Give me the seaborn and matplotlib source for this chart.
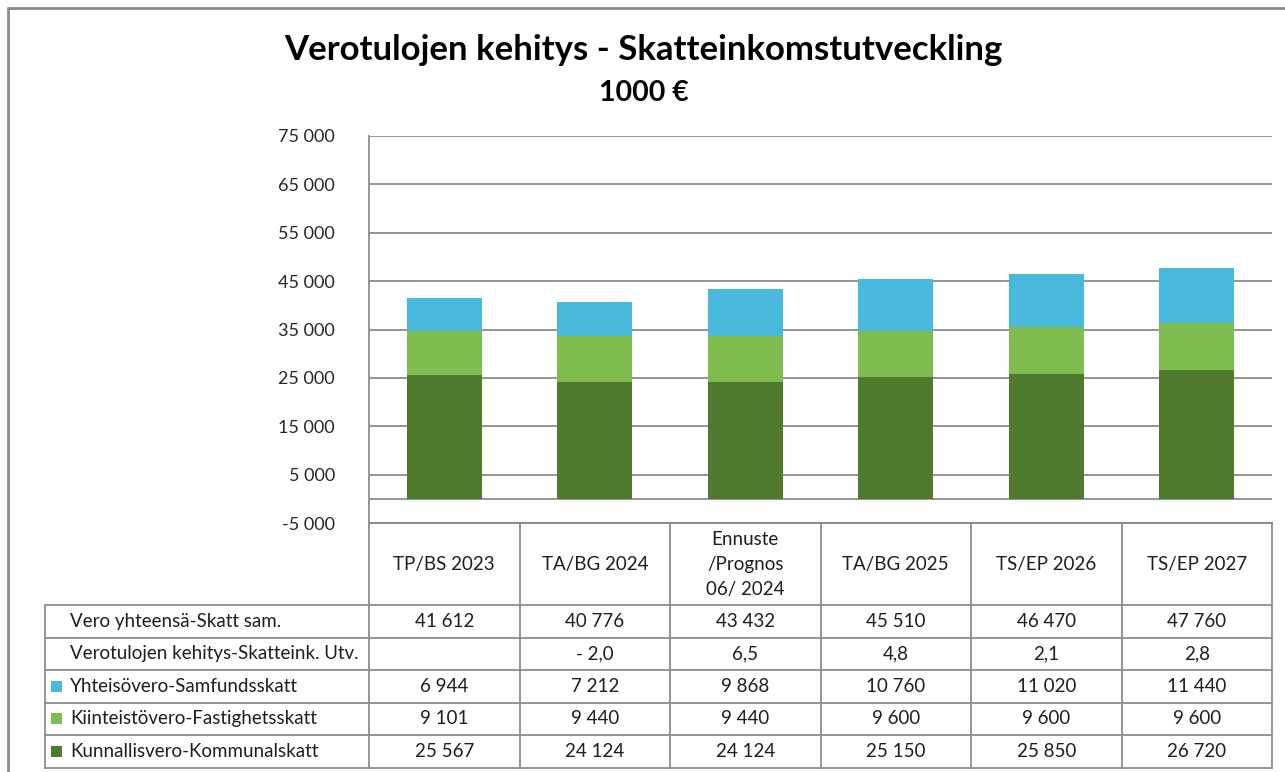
import matplotlib
matplotlib.use("Agg")
import matplotlib.pyplot as plt
import seaborn as sns
import numpy as np
from matplotlib.lines import Line2D
from matplotlib.patches import Rectangle

# ---------------- data ----------------
categories = ["TP/BS 2023", "TA/BG 2024", "Ennuste\n/Prognos\n06/ 2024",
              "TA/BG 2025", "TS/EP 2026", "TS/EP 2027"]
yhteisovero = [6944, 7212, 9868, 10760, 11020, 11440]
kiinteistovero = [9101, 9440, 9440, 9600, 9600, 9600]
kunnallisvero = [25567, 24124, 24124, 25150, 25850, 26720]
totals = [41612, 40776, 43432, 45510, 46470, 47760]
change = ["", "- 2,0", "6,5", "4,8", "2,1", "2,8"]
y_ticks = [-5000, 5000, 15000, 25000, 35000, 45000, 55000, 65000, 75000]

series_labels = ["Yhteisövero-Samfundsskatt", "Kiinteistövero-Fastighetsskatt",
                 "Kunnallisvero-Kommunalskatt"]
row_total_label = "Vero yhteensä-Skatt sam."
row_change_label = "Verotulojen kehitys-Skatteink. Utv."
title = "Verotulojen kehitys - Skatteinkomstutveckling"
subtitle = "1000 €"

# ---------------- style ----------------
c_blue = "#4AB9DE"
c_light = "#80BD50"
c_dark = "#507A2E"
c_grid = "#8C8C8C"
c_text = "#1E1E1E"

sns.set_theme(style="white")
plt.rcParams["font.family"] = ["Lato", "DejaVu Sans"]

W, H = 1285, 772
fig = plt.figure(figsize=(W / 100, H / 100), dpi=100)

# plot area in pixels
px_l, px_r, px_t, px_b = 369, 1272, 136, 523
ax = fig.add_axes([px_l / W, 1 - px_b / H, (px_r - px_l) / W, (px_b - px_t) / H])

kun_kii = [a + b for a, b in zip(kunnallisvero, kiinteistovero)]
stack_tot = [a + b for a, b in zip(kun_kii, yhteisovero)]

for vals, col in [(stack_tot, c_blue), (kun_kii, c_light), (kunnallisvero, c_dark)]:
    sns.barplot(x=categories, y=vals, color=col, saturation=1, width=0.5,
                linewidth=0, ax=ax, zorder=3)

ax.set_xlim(-0.5, len(categories) - 0.5)
ax.set_ylim(-5000, 75000)
ax.set_yticks(y_ticks)
ax.set_yticklabels([f"{v:,}".replace(",", " ") for v in y_ticks], fontsize=13, color="#262626")
ax.tick_params(axis="y", length=0, pad=24.5)
ax.set_xticks([])
ax.set_xlabel("")
ax.set_ylabel("")
ax.grid(axis="y", color=c_grid, linewidth=1.3, zorder=0)
ax.axhline(0, color=c_grid, linewidth=1.3, zorder=2)
for s in ["top", "right"]:
    ax.spines[s].set_visible(False)
ax.spines["left"].set_color(c_grid)
ax.spines["left"].set_linewidth(1.3)
ax.spines["bottom"].set_color(c_grid)
ax.spines["bottom"].set_linewidth(1.3)

# ---------------- overlay for table, title, frame ----------------
ov = fig.add_axes([0, 0, 1, 1], zorder=-1)
ov.set_xlim(0, W)
ov.set_ylim(H, 0)
ov.axis("off")
ov.patch.set_alpha(0)

lw = 1.3
# outer chart frame
ov.add_line(Line2D([8, W + 5], [8, 8], color="#8A8A8A", lw=2))
ov.add_line(Line2D([8, 8], [8, H + 5], color="#8A8A8A", lw=2))

ov.text(643, 50, title, ha="center", va="center", fontsize=25, fontweight="bold", color="black")
ov.text(644, 93, subtitle, ha="center", va="center", fontsize=20.5, fontweight="bold", color="black")

ncol = len(categories)
colw = (px_r - px_l) / ncol
col_edges = [px_l + i * colw for i in range(ncol + 1)]
tbl_left = 45
head_top, head_bot = 523, 605
row_edges = [605, 637.5, 670, 702.5, 735, 767.5]

for xe in col_edges:
    ov.add_line(Line2D([xe, xe], [head_top, row_edges[-1]], color=c_grid, lw=lw))
ov.add_line(Line2D([px_l, px_r], [head_top, head_top], color=c_grid, lw=lw))
for ye in row_edges:
    ov.add_line(Line2D([tbl_left, px_r], [ye, ye], color=c_grid, lw=lw))
ov.add_line(Line2D([tbl_left, tbl_left], [row_edges[0], row_edges[-1]], color=c_grid, lw=lw))

fs = 13.5
# header
for i, cat in enumerate(categories):
    ov.text(col_edges[i] + colw / 2, (head_top + head_bot) / 2 + 0.5, cat, ha="center", va="center",
            fontsize=fs, color=c_text, linespacing=1.55)

fmt = lambda v: f"{v:,}".replace(",", " ")
rows = [
    (row_total_label, None, [fmt(v) for v in totals]),
    (row_change_label, None, change),
    (series_labels[0], c_blue, [fmt(v) for v in yhteisovero]),
    (series_labels[1], c_light, [fmt(v) for v in kiinteistovero]),
    (series_labels[2], c_dark, [fmt(v) for v in kunnallisvero]),
]
for r, (lab, col, vals) in enumerate(rows):
    yc = (row_edges[r] + row_edges[r + 1]) / 2
    ov.text(70, yc, lab, ha="left", va="center", fontsize=fs, color=c_text)
    if col is not None:
        ov.add_patch(Rectangle((51, yc - 5.5), 11, 11, color=col, lw=0))
    for i, v in enumerate(vals):
        ov.text(col_edges[i] + colw / 2, yc, v, ha="center", va="center", fontsize=fs, color=c_text)

fig.savefig("out.png", dpi=100, facecolor="white")
